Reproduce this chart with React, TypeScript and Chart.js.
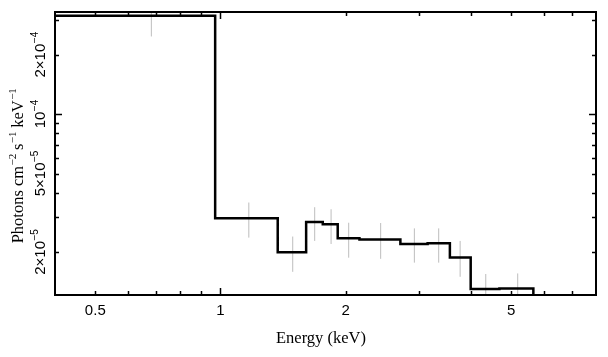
import React, { useEffect, useRef } from "react";
import { Chart, registerables } from "chart.js";

Chart.register(...registerables);

// Histogram (model) bins: edges in keV, values in photons cm^-2 s^-1 keV^-1
const binEdges = [0.39, 0.971, 1.373, 1.607, 1.762, 1.914, 2.159, 2.708, 3.149, 3.562, 3.997, 4.686, 5.655];
const binValues = [3.16e-4, 2.97e-5, 2.0e-5, 2.84e-5, 2.77e-5, 2.35e-5, 2.32e-5, 2.2e-5, 2.22e-5, 1.88e-5, 1.3e-5, 1.31e-5];

// Data error bars
const errEnergies = [0.682, 1.17, 1.492, 1.685, 1.845, 2.034, 2.428, 2.926, 3.348, 3.77, 4.345, 5.186];
const errLow = [2.48e-4, 2.37e-5, 1.59e-5, 2.28e-5, 2.2e-5, 1.875e-5, 1.85e-5, 1.77e-5, 1.77e-5, 1.5e-5, 1.05e-5, 1.05e-5];
const errHigh = [3.8e-4, 3.57e-5, 2.4e-5, 3.38e-5, 3.3e-5, 2.82e-5, 2.81e-5, 2.64e-5, 2.64e-5, 2.28e-5, 1.55e-5, 1.56e-5];

// Axes
const xMin = 0.4;
const xMax = 8;
const yMin = 1.213e-5;
const yMax = 3.3e-4;
const xTickValues = [0.5, 0.6, 0.7, 0.8, 0.9, 1, 2, 3, 4, 5, 6, 7];
const xMajorTicks = [1];
const xLabelValues = [0.5, 1, 2, 5];
const xLabelTexts = ["0.5", "1", "2", "5"];
const yTickValues = [2e-5, 3e-5, 4e-5, 5e-5, 6e-5, 7e-5, 8e-5, 9e-5, 1e-4, 2e-4, 3e-4];
const yMajorTicks = [1e-4];
const yLabelValues = [2e-5, 5e-5, 1e-4, 2e-4];
const yLabelMantissa = ["2×10", "5×10", "10", "2×10"];
const yLabelExponent = ["−5", "−5", "−4", "−4"];

const xTitle = "Energy (keV)";
const yTitleParts: [string, string][] = [
  ["Photons cm", "−2"],
  [" s", "−1"],
  [" keV", "−1"],
];

const SANS = '"Liberation Sans", Arial, Helvetica, sans-serif';
const SERIF = '"Liberation Serif", "Times New Roman", serif';

const axesPlugin = {
  id: "pgAxes",
  afterDraw(chart: any) {
    const { ctx, chartArea: ca, scales } = chart;
    const xs = scales.x;
    const ys = scales.y;
    ctx.save();
    ctx.strokeStyle = "#000";
    ctx.fillStyle = "#000";

    // frame
    ctx.lineWidth = 2;
    ctx.strokeRect(ca.left, ca.top, ca.right - ca.left, ca.bottom - ca.top);

    const seg = (x1: number, y1: number, x2: number, y2: number) => {
      ctx.beginPath();
      ctx.moveTo(x1, y1);
      ctx.lineTo(x2, y2);
      ctx.stroke();
    };

    ctx.lineWidth = 1.5;
    for (const v of xTickValues) {
      const px = Math.round(xs.getPixelForValue(v)) + 0.5;
      const len = xMajorTicks.includes(v) ? 7 : 4;
      seg(px, ca.bottom, px, ca.bottom - len);
      seg(px, ca.top, px, ca.top + len);
    }
    for (const v of yTickValues) {
      const py = Math.round(ys.getPixelForValue(v)) + 0.5;
      const len = yMajorTicks.includes(v) ? 7 : 4;
      seg(ca.left, py, ca.left + len, py);
      seg(ca.right, py, ca.right - len, py);
    }

    // x tick labels
    ctx.font = `15px ${SANS}`;
    ctx.textAlign = "center";
    ctx.textBaseline = "alphabetic";
    xLabelValues.forEach((v, i) => {
      const px = xs.getPixelForValue(v);
      ctx.fillText(xLabelTexts[i], px, 315);
    });

    // y tick labels (rotated, with superscript)
    yLabelValues.forEach((v, i) => {
      const py = ys.getPixelForValue(v);
      ctx.save();
      ctx.translate(45, py);
      ctx.rotate(-Math.PI / 2);
      ctx.textAlign = "left";
      ctx.font = `15px ${SANS}`;
      const w1 = ctx.measureText(yLabelMantissa[i]).width;
      ctx.font = `10px ${SANS}`;
      const w2 = ctx.measureText(yLabelExponent[i]).width;
      const start = -(w1 + w2) / 2;
      ctx.font = `15px ${SANS}`;
      ctx.fillText(yLabelMantissa[i], start, 0);
      ctx.font = `10px ${SANS}`;
      ctx.fillText(yLabelExponent[i], start + w1 + 0.5, -7);
      ctx.restore();
    });

    // x title
    ctx.font = `16.5px ${SERIF}`;
    ctx.textAlign = "center";
    ctx.fillText(xTitle, 321, 343);

    // y title
    ctx.save();
    ctx.translate(23, 166);
    ctx.rotate(-Math.PI / 2);
    ctx.textAlign = "left";
    let total = 0;
    const widths: [number, number][] = [];
    for (const [main, sup] of yTitleParts) {
      ctx.font = `16.5px ${SERIF}`;
      const a = ctx.measureText(main).width;
      ctx.font = `11px ${SERIF}`;
      const b = ctx.measureText(sup).width;
      widths.push([a, b]);
      total += a + b;
    }
    let cx = -total / 2;
    yTitleParts.forEach(([main, sup], i) => {
      ctx.font = `16.5px ${SERIF}`;
      ctx.fillText(main, cx, 0);
      cx += widths[i][0];
      ctx.font = `11px ${SERIF}`;
      ctx.fillText(sup, cx + 0.5, -7);
      cx += widths[i][1];
    });
    ctx.restore();

    ctx.restore();
  },
};

export default function App() {
  const canvasRef = useRef<HTMLCanvasElement | null>(null);

  useEffect(() => {
    const canvas = canvasRef.current;
    if (!canvas) return;

    const stepData: { x: number; y: number }[] = binValues.map((v, i) => ({ x: binEdges[i], y: v }));
    stepData.push({ x: binEdges[binEdges.length - 1], y: binValues[binValues.length - 1] });
    stepData.push({ x: binEdges[binEdges.length - 1], y: 1e-6 });

    const errData: { x: number; y: number | null }[] = [];
    errEnergies.forEach((e, i) => {
      errData.push({ x: e, y: errLow[i] });
      errData.push({ x: e, y: errHigh[i] });
      errData.push({ x: e, y: null });
    });

    const chart = new Chart(canvas, {
      type: "line",
      data: {
        datasets: [
          {
            label: "model",
            data: stepData as any,
            stepped: "before",
            borderColor: "#000",
            borderWidth: 2.5,
            pointRadius: 0,
            fill: false,
            clip: 0,
            order: 0,
          } as any,
          {
            label: "data",
            data: errData as any,
            borderColor: "#bdbdbd",
            borderWidth: 1,
            pointRadius: 0,
            spanGaps: false,
            fill: false,
            clip: 0,
            order: 1,
          } as any,
        ],
      },
      plugins: [axesPlugin],
      options: {
        animation: false,
        responsive: false,
        devicePixelRatio: 1,
        events: [],
        layout: { padding: { left: 55, right: 12, top: 12, bottom: 62 } },
        plugins: {
          legend: { display: false },
          tooltip: { enabled: false },
        },
        scales: {
          x: { type: "logarithmic", min: xMin, max: xMax, display: false },
          y: { type: "logarithmic", min: yMin, max: yMax, display: false },
        },
      },
    });

    return () => chart.destroy();
  }, []);

  return (
    <div style={{ position: "absolute", left: 0, top: 0, width: 608, height: 357, background: "#fff" }}>
      <canvas ref={canvasRef} width={608} height={357} style={{ display: "block" }} />
    </div>
  );
}
